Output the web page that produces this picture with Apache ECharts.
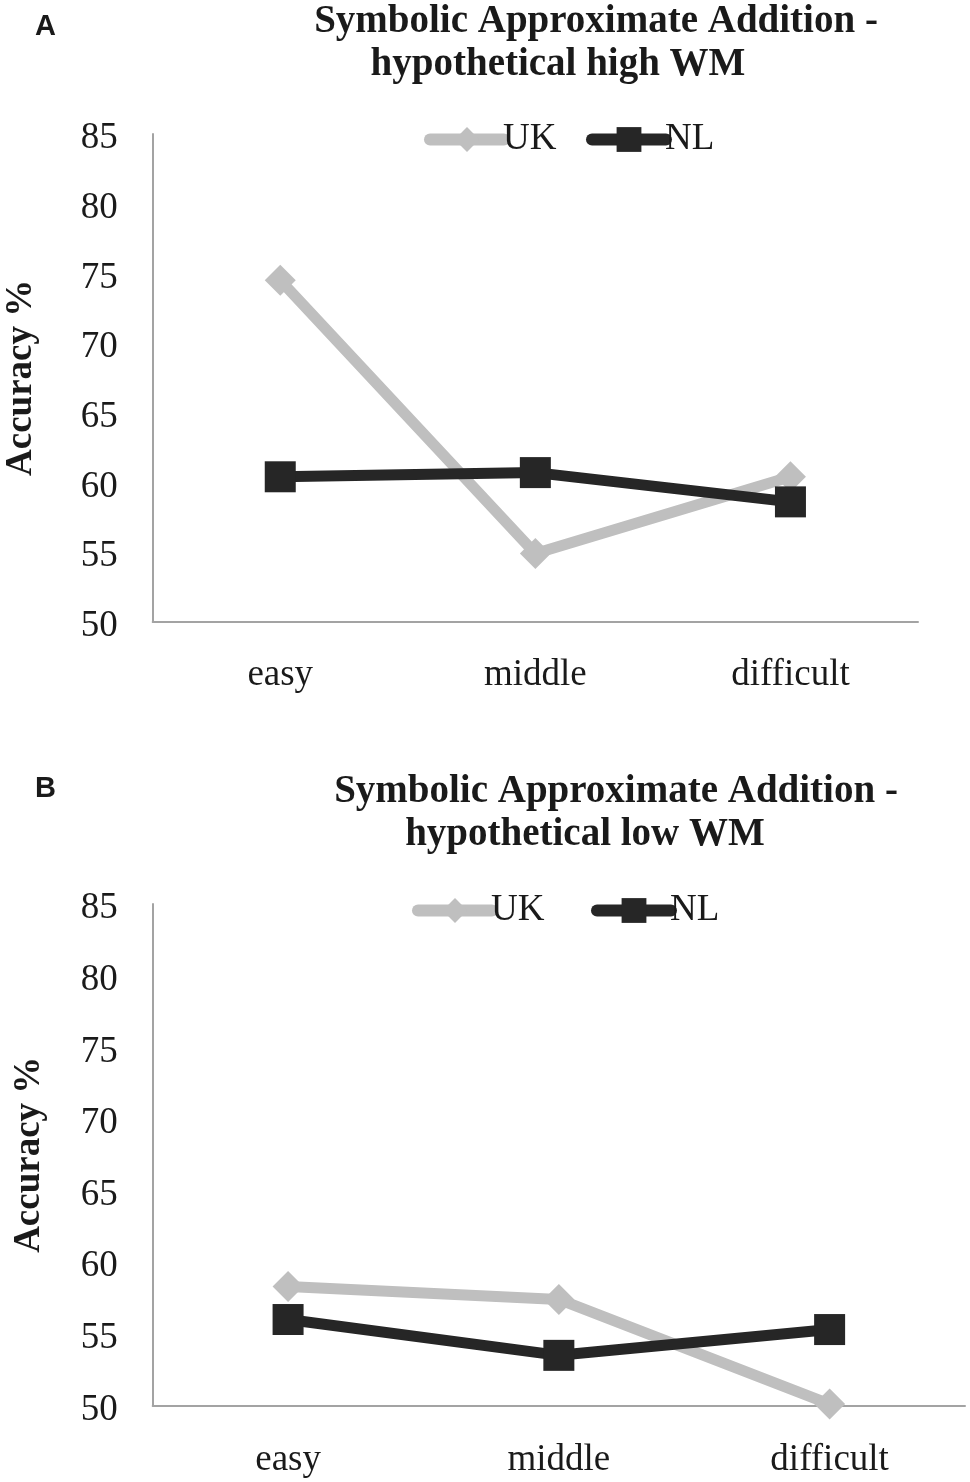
<!DOCTYPE html>
<html>
<head>
<meta charset="utf-8">
<title>Symbolic Approximate Addition</title>
<script src="https://cdn.jsdelivr.net/npm/echarts@6/dist/echarts.min.js"></script>
<style>
	html,body{margin:0;padding:0;background:#fff;}
	#chart{width:970px;height:1482px;}
</style>
</head>
<body>
<div id="chart"></div>
<script>
//数据
var categories = ['easy', 'middle', 'difficult'];
var seriesNames = ['UK', 'NL'];
var ukHigh = [74.5, 54.9, 60.4];
var nlHigh = [60.4, 60.7, 58.6];
var ukLow = [58.3, 57.4, 50.1];
var nlLow = [56.0, 53.5, 55.3];
var yMin = 50, yMax = 85, yStep = 5;

var gray = '#BFBFBF';
var black = '#262626';
var serif = 'Liberation Serif';

var myChart = echarts.init(document.getElementById('chart'));

//横轴
function makeX(gridIndex, margin){
	return {
		type: 'category',
		gridIndex: gridIndex,
		data: categories,
		boundaryGap: true,
		axisLine: {lineStyle: {color: '#A3A3A3', width: 2}},
		axisTick: {show: false},
		axisLabel: {color: '#1a1a1a', fontFamily: serif, fontSize: 37, margin: margin}
	};
}
//纵轴
function makeY(gridIndex, nameGap){
	return {
		type: 'value',
		gridIndex: gridIndex,
		min: yMin,
		max: yMax,
		interval: yStep,
		name: 'Accuracy %',
		nameLocation: 'middle',
		nameGap: nameGap,
		nameTextStyle: {color: '#1a1a1a', fontFamily: serif, fontSize: 37, fontWeight: 'bold'},
		axisLine: {show: true, lineStyle: {color: '#A3A3A3', width: 2}},
		axisTick: {show: false},
		splitLine: {show: false},
		//标签稍微偏下
		axisLabel: {color: '#1a1a1a', fontFamily: serif, fontSize: 37, margin: 35, verticalAlign: 'top', lineHeight: 9}
	};
}
//折线
function makeLine(name, data, idx, color, symbol){
	return {
		name: name,
		type: 'line',
		xAxisIndex: idx,
		yAxisIndex: idx,
		data: data,
		symbol: symbol,
		symbolSize: 31,
		lineStyle: {color: color, width: 11},
		itemStyle: {color: color},
		emphasis: {disabled: true},
		z: symbol == 'rect' ? 3 : 2
	};
}
//图例
function makeLegend(name, left, top){
	return {
		data: [name],
		left: left,
		top: top,
		padding: 0,
		itemWidth: 74,
		itemHeight: 31,
		selectedMode: false,
		lineStyle: {width: 12, cap: 'round'},
		textStyle: {color: '#1a1a1a', fontFamily: serif, fontSize: 37, lineHeight: 31, padding: [0, 0, 0, -6]}
	};
}
//标题文字
function makeText(text, x, y, font, size, weight){
	return {
		type: 'text',
		x: x,
		y: y,
		style: {
			text: text,
			fill: '#1a1a1a',
			font: weight + ' ' + size + 'px "' + font + '"',
			textAlign: font == serif ? 'center' : 'left',
			textVerticalAlign: 'middle'
		}
	};
}

var option = {
	animation: false,
	backgroundColor: '#fff',
	grid: [
		{left: 152.7, top: 134, right: 52, bottom: 860.3, outerBoundsMode: 'none'},
		{left: 152.7, top: 904, right: 5, bottom: 76.5, outerBoundsMode: 'none'}
	],
	xAxis: [makeX(0, 35), makeX(1, 36)],
	yAxis: [makeY(0, 113), makeY(1, 105)],
	legend: [
		makeLegend(seriesNames[0], 424, 121),
		makeLegend(seriesNames[1], 586, 121),
		makeLegend(seriesNames[0], 412, 892),
		makeLegend(seriesNames[1], 591, 892)
	],
	graphic: [
		makeText('A', 35, 27, 'Liberation Sans', 29, 'bold'),
		makeText('Symbolic Approximate Addition -', 596, 22, serif, 39, 'bold'),
		makeText('hypothetical high WM', 558, 65, serif, 39, 'bold'),
		makeText('B', 35, 789, 'Liberation Sans', 29, 'bold'),
		makeText('Symbolic Approximate Addition -', 616, 792, serif, 39, 'bold'),
		makeText('hypothetical low WM', 585, 835, serif, 39, 'bold')
	],
	series: [
		makeLine(seriesNames[0], ukHigh, 0, gray, 'diamond'),
		makeLine(seriesNames[1], nlHigh, 0, black, 'rect'),
		makeLine(seriesNames[0], ukLow, 1, gray, 'diamond'),
		makeLine(seriesNames[1], nlLow, 1, black, 'rect')
	]
};

myChart.setOption(option);
</script>
</body>
</html>
